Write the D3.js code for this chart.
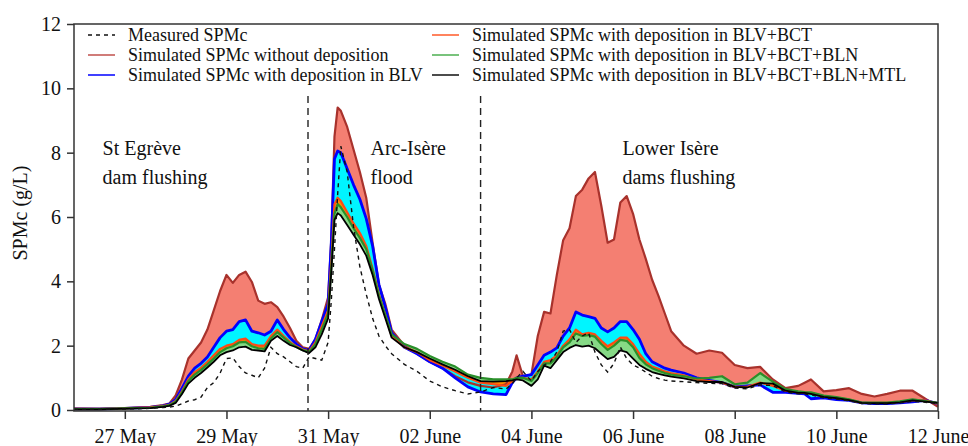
<!DOCTYPE html>
<meta charset="utf-8">
<html>
<head>
<style>
  body { margin: 0; background: #fff; }
  text { font-family: "Liberation Serif", "Times New Roman", serif; fill: #111; }
</style>
</head>
<body>
<div id="chart"></div>
<script src="https://d3js.org/d3.v7.min.js"></script>
<script>
  // hours since 26 May 00:00
  var hours = [0,12,24,36,42,45,48,51,54,57,60,63,66,69,72,75,78,81,84,87,90,93,96,99,102,105,108,111,114,117,120,121.5,123,124.5,126,129,132,135,138,141,144,147,150,156,162,168,174,180,186,192,198,204,207,209,212,216,219,222,225,228,231,234,237,240,243,246,249,252,255,258,261,264,267,270,273,276,279,282,288,294,300,306,312,318,324,330,336,342,345,348,354,360,366,372,378,384,390,396,402,408];

  var noDeposition = [0.05,0.04,0.06,0.1,0.15,0.2,0.45,0.95,1.6,1.85,2.1,2.5,3.1,3.7,4.2,3.95,4.2,4.3,3.98,3.4,3.3,3.35,3.2,2.9,2.55,2.15,1.95,1.9,2.2,2.8,3.5,5.3,8.5,9.4,9.3,8.8,8.1,7.4,6.6,5.2,3.9,3.3,2.5,2.0,1.75,1.5,1.3,1.05,0.86,0.75,0.7,0.8,1.2,1.7,1.05,1.1,2.3,3.05,3.0,4.2,5.28,5.65,6.65,6.85,7.2,7.4,6.35,5.2,5.3,6.45,6.65,6.1,5.3,4.7,4.05,3.55,3.0,2.45,2.0,1.75,1.85,1.78,1.4,1.3,1.34,0.95,0.68,0.75,0.85,0.95,0.58,0.62,0.68,0.5,0.42,0.5,0.6,0.6,0.35,0.1];

  var depBLV = [0.03,0.03,0.05,0.08,0.13,0.18,0.32,0.68,1.05,1.3,1.45,1.65,1.95,2.25,2.45,2.5,2.75,2.8,2.45,2.4,2.33,2.45,2.8,2.5,2.25,2.05,1.9,1.85,2.2,2.75,3.3,5.2,7.8,8.05,8.0,7.5,7.0,6.55,5.95,5.1,3.9,3.2,2.4,1.95,1.75,1.5,1.3,1.0,0.72,0.56,0.5,0.48,0.85,1.0,1.05,1.1,1.4,1.7,1.8,1.93,2.3,2.55,3.05,2.95,2.9,2.85,2.55,2.43,2.55,2.75,2.75,2.5,2.2,1.75,1.5,1.4,1.3,1.24,1.15,1.0,0.92,0.85,0.72,0.75,0.78,0.55,0.55,0.52,0.5,0.35,0.38,0.32,0.3,0.22,0.2,0.2,0.22,0.25,0.3,0.2];

  var depBCT = [0.03,0.03,0.05,0.08,0.12,0.16,0.28,0.58,0.95,1.18,1.32,1.5,1.7,1.9,2.0,2.05,2.18,2.22,2.05,2.0,2.0,2.3,2.5,2.3,2.12,1.98,1.88,1.82,2.1,2.6,3.1,4.6,6.4,6.6,6.5,6.15,5.8,5.5,5.1,4.4,3.6,2.95,2.3,1.95,1.8,1.55,1.38,1.2,1.0,0.85,0.8,0.75,0.9,1.0,1.0,0.95,1.2,1.5,1.55,1.7,2.0,2.2,2.5,2.35,2.4,2.35,2.15,1.98,2.1,2.25,2.25,2.05,1.75,1.5,1.35,1.28,1.2,1.15,1.08,0.95,0.9,0.85,0.72,0.72,0.85,0.75,0.6,0.55,0.55,0.5,0.42,0.38,0.32,0.22,0.22,0.22,0.25,0.3,0.3,0.2];

  var depBLN = [0.03,0.03,0.05,0.07,0.11,0.15,0.26,0.55,0.9,1.1,1.25,1.42,1.6,1.8,1.92,1.98,2.1,2.12,1.98,1.92,1.9,2.22,2.42,2.25,2.08,1.96,1.86,1.8,2.05,2.5,3.0,4.4,6.1,6.4,6.3,6.0,5.65,5.35,5.0,4.35,3.55,2.95,2.35,2.05,1.9,1.68,1.5,1.35,1.1,1.0,0.95,0.95,0.95,1.0,1.0,0.9,1.15,1.45,1.45,1.65,1.95,2.1,2.38,2.3,2.33,2.28,2.05,1.87,2.0,2.18,2.15,1.95,1.62,1.42,1.3,1.22,1.15,1.1,1.05,0.98,1.0,1.05,0.8,0.85,1.15,0.88,0.65,0.58,0.56,0.55,0.45,0.4,0.33,0.23,0.23,0.23,0.27,0.33,0.28,0.22];

  var depMTL = [0.02,0.02,0.04,0.06,0.1,0.13,0.22,0.5,0.82,1.0,1.15,1.32,1.5,1.7,1.8,1.85,1.95,1.97,1.87,1.85,1.82,2.15,2.3,2.15,2.02,1.95,1.85,1.77,1.95,2.35,2.85,4.3,5.9,6.12,6.05,5.75,5.45,5.15,4.8,4.2,3.45,2.85,2.25,1.95,1.8,1.6,1.42,1.25,1.05,0.9,0.88,0.9,0.92,0.95,0.92,0.75,0.95,1.38,1.3,1.55,1.8,1.93,2.02,1.97,2.0,1.92,1.75,1.58,1.65,1.85,1.8,1.6,1.4,1.28,1.18,1.12,1.08,1.04,0.98,0.9,0.87,0.87,0.72,0.7,0.84,0.82,0.6,0.53,0.53,0.5,0.41,0.37,0.31,0.22,0.21,0.21,0.24,0.3,0.26,0.22];

  var measured = [0.02,0.02,0.03,0.05,0.08,0.09,0.12,0.2,0.28,0.32,0.4,0.7,0.85,1.15,1.6,1.62,1.35,1.15,1.08,1.0,1.3,1.95,1.75,1.65,1.5,1.35,1.3,1.65,1.6,1.55,2.1,3.4,5.0,6.7,8.2,7.4,5.7,4.45,3.6,2.85,2.3,2.0,1.75,1.42,1.2,0.9,0.72,0.6,0.5,0.56,0.7,0.65,0.82,1.0,1.2,0.9,1.2,1.4,1.5,1.8,2.45,2.5,2.1,2.3,2.4,1.8,1.4,1.18,1.45,1.96,1.6,1.4,1.3,1.18,1.05,0.98,0.93,0.9,0.88,0.85,0.83,0.82,0.68,0.66,0.78,0.76,0.56,0.5,0.5,0.47,0.38,0.34,0.29,0.2,0.19,0.19,0.22,0.27,0.24,0.2];

  var eventHours = [110.5, 192];
  var tickDays = ["2015-05-27","2015-05-29","2015-05-31","2015-06-02","2015-06-04","2015-06-06","2015-06-08","2015-06-10","2015-06-12"];
  var yTicks = [0, 2, 4, 6, 8, 10, 12];

  var legendNames = ["Measured SPMc","Simulated SPMc without deposition","Simulated SPMc with deposition in BLV",
    "Simulated SPMc with deposition in BLV+BCT","Simulated SPMc with deposition in BLV+BCT+BLN","Simulated SPMc with deposition in BLV+BCT+BLN+MTL"];
  var annotations = [["St Egrève","dam flushing"],["Arc-Isère","flood"],["Lower Isère","dams flushing"]];
  var annotationHours = [13.5, 140, 259];

  var width = 968, height = 446;
  var start = new Date(2015, 4, 26);
  var toDate = function(h) { return new Date(start.getTime() + h * 3600000); };

  var svg = d3.select("#chart").append("svg")
    .attr("width", width).attr("height", height);

  var x = d3.scaleTime()
    .domain([toDate(0), toDate(408)])
    .range([74, 938]);
  var y = d3.scaleLinear()
    .domain([0, 12])
    .range([410, 24]);

  var series = [noDeposition, depBLV, depBCT, depBLN, depMTL];
  var lineColors = ["#a8322c", "#0000ff", "#ff4a14", "#2a8f2a", "#000000"];
  var bandColors = ["#f47f72", "#00f5ff", "#ff8c00", "#86d986"];
  var lineWidths = [2.2, 2.8, 2.2, 2.2, 1.8];

  var rows = hours.map(function(h, i) {
    return { t: toDate(h), s: series.map(function(s) { return s[i]; }), m: measured[i] };
  });

  // bands between consecutive simulations
  bandColors.forEach(function(c, k) {
    svg.append("path")
      .datum(rows)
      .attr("fill", c)
      .attr("d", d3.area()
        .x(function(d) { return x(d.t); })
        .y0(function(d) { return y(d.s[k + 1]); })
        .y1(function(d) { return y(d.s[k]); }));
  });

  series.forEach(function(s, k) {
    svg.append("path")
      .datum(rows)
      .attr("fill", "none")
      .attr("stroke", lineColors[k])
      .attr("stroke-width", lineWidths[k])
      .attr("stroke-linejoin", "round")
      .attr("d", d3.line()
        .x(function(d) { return x(d.t); })
        .y(function(d) { return y(d.s[k]); }));
  });

  svg.append("path")
    .datum(rows)
    .attr("fill", "none")
    .attr("stroke", "#111")
    .attr("stroke-width", 1.4)
    .attr("stroke-dasharray", "4,4")
    .attr("d", d3.line()
      .x(function(d) { return x(d.t); })
      .y(function(d) { return y(d.m); }));

  // event markers
  eventHours.forEach(function(h) {
    svg.append("line")
      .attr("x1", x(toDate(h))).attr("x2", x(toDate(h)))
      .attr("y1", 96).attr("y2", 411)
      .attr("stroke", "#222")
      .attr("stroke-width", 1.4)
      .attr("stroke-dasharray", "7,5");
  });

  // frame
  svg.append("rect")
    .attr("x", 74).attr("y", 24)
    .attr("width", 864).attr("height", 387)
    .attr("fill", "none")
    .attr("stroke", "#333")
    .attr("stroke-width", 1.5);

  var yAxis = svg.append("g")
    .attr("transform", "translate(74,0)")
    .call(d3.axisLeft(y).tickValues(yTicks).tickSize(7).tickPadding(6).tickFormat(d3.format("d")));
  yAxis.select(".domain").remove();
  yAxis.selectAll("line").attr("stroke", "#333").attr("stroke-width", 1.5);
  yAxis.selectAll("text").style("font-family", "Liberation Serif").style("font-size", "20px").attr("fill", "#111");

  var xAxis = svg.append("g")
    .attr("transform", "translate(0,411)")
    .call(d3.axisBottom(x)
      .tickValues(tickDays.map(function(s) { return d3.timeParse("%Y-%m-%d")(s); }))
      .tickSize(8).tickPadding(10)
      .tickFormat(d3.timeFormat("%d %B")));
  xAxis.select(".domain").remove();
  xAxis.selectAll("line").attr("stroke", "#333").attr("stroke-width", 1.5);
  xAxis.selectAll("text").style("font-family", "Liberation Serif").style("font-size", "20px").attr("fill", "#111");

  svg.append("text")
    .attr("transform", "translate(27,213) rotate(-90)")
    .attr("text-anchor", "middle")
    .style("font-size", "20px")
    .text("SPMc (g/L)");

  // annotations
  annotations.forEach(function(a, i) {
    var g = svg.append("text")
      .attr("x", x(toDate(annotationHours[i])))
      .attr("y", 155)
      .style("font-size", "20px");
    g.append("tspan").text(a[0]);
    g.append("tspan").attr("x", x(toDate(annotationHours[i]))).attr("dy", 29).text(a[1]);
  });

  // legend
  var legendStroke = ["#111", "#c0504d", "#0000ff", "#ff5a28", "#4caf50", "#111"];
  legendNames.forEach(function(name, i) {
    var col = Math.floor(i / 3), row = i % 3;
    var lx = col === 0 ? 88 : 432;
    var ly = 35 + row * 20;
    svg.append("line")
      .attr("x1", lx).attr("x2", lx + 27)
      .attr("y1", ly).attr("y2", ly)
      .attr("stroke", legendStroke[i])
      .attr("stroke-width", 1.5)
      .attr("stroke-dasharray", i === 0 ? "4,4" : null);
    svg.append("text")
      .attr("x", lx + 40)
      .attr("y", ly + 6)
      .style("font-size", "18px")
      .text(name);
  });
</script>
</body>
</html>
